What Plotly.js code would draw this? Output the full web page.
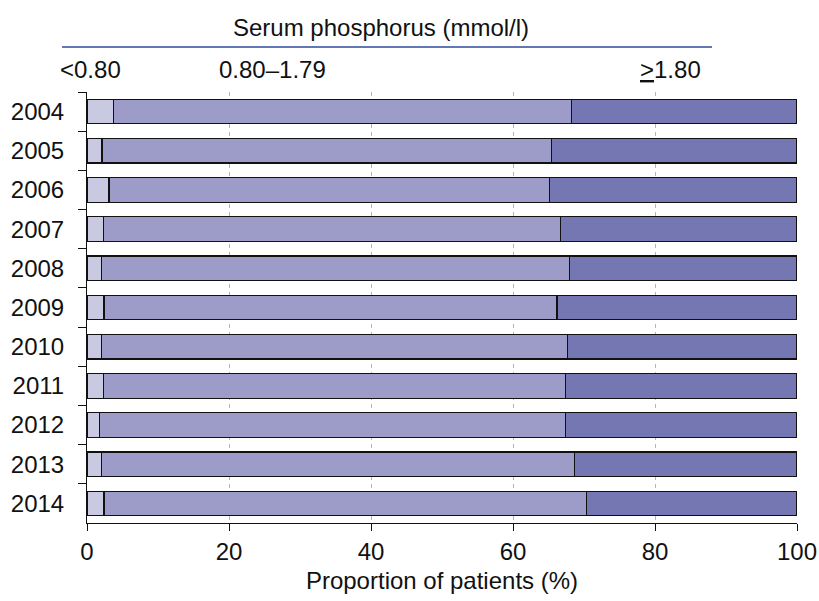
<!DOCTYPE html>
<html>
<head>
<meta charset="utf-8">
<script src="https://cdn.plot.ly/plotly-3.0.1.min.js"></script>
<style>
  html, body { margin: 0; padding: 0; background: #fff; }
  #chart { width: 819px; height: 601px; }
</style>
</head>
<body>
<div id="chart"></div>
<script>
// Serum phosphorus categories by year (% of patients)
const years = ["2004", "2005", "2006", "2007", "2008", "2009", "2010", "2011", "2012", "2013", "2014"];
const low  = [3.7, 2.1, 3.1, 2.3, 2.0, 2.4, 2.0, 2.3, 1.8, 2.0, 2.4];        // <0.80
const mid  = [64.5, 63.3, 62.0, 64.4, 66.0, 63.8, 65.7, 65.1, 65.6, 66.7, 67.9]; // 0.80–1.79
const high = [31.8, 34.6, 34.9, 33.3, 32.0, 33.8, 32.3, 32.6, 32.6, 31.3, 29.7]; // >=1.80
const groupNames = ["<0.80", "0.80–1.79", "≥1.80"];
const xTicks = [0, 20, 40, 60, 80, 100];

const FONT = "Liberation Sans, Arial, sans-serif";
const FS = 24;
const colors = ["#c9c9e2", "#9d9cc8", "#7477b1"];

const traces = [low, mid, high].map((vals, i) => ({
  type: "bar",
  orientation: "h",
  name: groupNames[i],
  y: years,
  x: vals,
  marker: { color: colors[i], line: { color: "#111", width: 1.2 } },
  hoverinfo: "x+y"
}));

const py = p => (523 - p) / 431;   // pixel row -> paper y
const px = p => (p - 87) / 710;    // pixel column -> paper x

const layout = {
  width: 819,
  height: 601,
  margin: { l: 87, r: 22, t: 92, b: 78 },
  barmode: "stack",
  bargap: 0.375,
  showlegend: false,
  paper_bgcolor: "#fff",
  plot_bgcolor: "#fff",
  font: { family: FONT, size: FS, color: "#111" },
  xaxis: {
    range: [0, 100],
    tickvals: xTicks,
    ticktext: xTicks.map(String),
    ticks: "outside",
    ticklen: 7,
    tickcolor: "#111",
    showline: true,
    linecolor: "#111",
    linewidth: 1,
    zeroline: false,
    showgrid: true,
    gridcolor: "#b4b4b4",
    griddash: "4px,4px",
    gridwidth: 1,
    tickfont: { size: FS },
    title: { text: "Proportion of patients (%)", font: { size: FS }, standoff: 8 }
  },
  yaxis: {
    type: "category",
    autorange: "reversed",
    ticks: "outside",
    tickson: "boundaries",
    ticklen: 8,
    tickcolor: "#111",
    showline: true,
    linecolor: "#111",
    linewidth: 1,
    showgrid: false,
    zeroline: false,
    tickfont: { size: FS },
    ticklabelstandoff: 17
  },
  shapes: [{
    type: "line", xref: "paper", yref: "paper",
    x0: px(62), x1: px(712), y0: py(47), y1: py(47),
    line: { color: "#2e4a9a", width: 1.5 }
  }],
  annotations: [
    { text: "Serum phosphorus (mmol/l)", x: px(381), y: py(27) },
    { text: groupNames[0], x: px(90), y: py(69) },
    { text: groupNames[1], x: px(272), y: py(69) },
    { text: '<span style="text-decoration:underline">&gt;</span>1.80', x: px(670), y: py(69) }
  ].map(a => Object.assign({
    xref: "paper", yref: "paper", showarrow: false,
    xanchor: "center", yanchor: "middle",
    font: { family: FONT, size: FS, color: "#111" }
  }, a))
};

Plotly.newPlot("chart", traces, layout, { displayModeBar: false, staticPlot: true });
</script>
</body>
</html>
